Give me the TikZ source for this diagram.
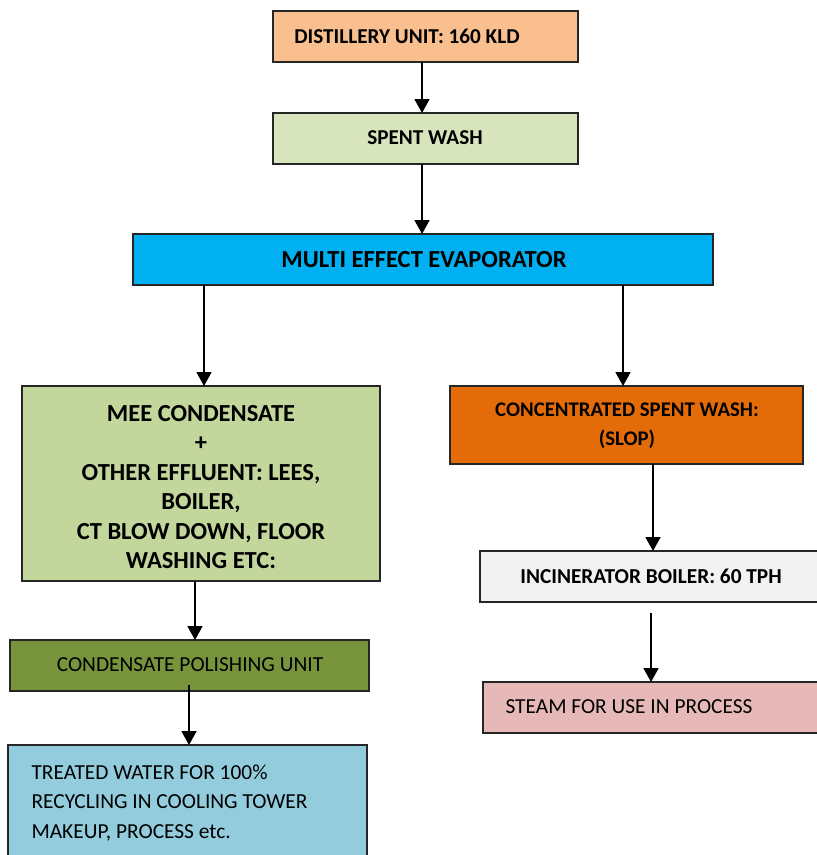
\documentclass[tikz,border=0pt]{standalone}
\usepackage{fontspec}
\setmainfont{Carlito}
\usetikzlibrary{arrows.meta}
\definecolor{cDist}{HTML}{F9BF8F}
\definecolor{cSpent}{HTML}{D8E4BC}
\definecolor{cMee}{HTML}{00B0F0}
\definecolor{cCond}{HTML}{C3D69B}
\definecolor{cSlop}{HTML}{E36C09}
\definecolor{cInc}{HTML}{F2F2F2}
\definecolor{cSteam}{HTML}{E6B9B8}
\definecolor{cPol}{HTML}{77933C}
\definecolor{cTreat}{HTML}{93CDDD}
\tikzset{
  box/.style={draw=black!85, line width=1.4pt, rectangle, inner sep=0pt, outer sep=0pt},
  arr/.style={-{Triangle[width=15pt,length=14pt]}, line width=1.8pt, black},
  txtb/.style={font=\fontsize{21.2}{25}\selectfont\bfseries},
  txtr/.style={font=\fontsize{21.4}{25}\selectfont},
}
\begin{document}
\begin{tikzpicture}[x=1pt,y=-1pt]
\useasboundingbox (0,0) rectangle (817,855);
% boxes
\node[box, fill=cDist, minimum width=305pt, minimum height=51pt] (dist) at (425.5,36.5) {};
\node[txtb] at (407,36.5) {DISTILLERY UNIT: 160 KLD};
\node[box, fill=cSpent, minimum width=305pt, minimum height=51pt] (spent) at (425.5,138.5) {};
\node[txtb] at (425,138) {SPENT WASH};
\node[box, fill=cMee, minimum width=580pt, minimum height=51pt] (mee) at (423,259.5) {};
\node[font=\fontsize{24.5}{28}\selectfont\bfseries] at (424,259.5) {MULTI EFFECT EVAPORATOR};
\node[box, fill=cCond, minimum width=358pt, minimum height=195pt] (cond) at (201,483.5) {};
\node[font=\fontsize{24.5}{29.5}\selectfont\bfseries, align=center] at (201,487) {MEE CONDENSATE\\+\\OTHER EFFLUENT: LEES,\\BOILER,\\CT BLOW DOWN, FLOOR\\WASHING ETC:};
\node[box, fill=cSlop, minimum width=353pt, minimum height=78pt] (slop) at (626.5,425) {};
\node[font=\fontsize{20.8}{29}\selectfont\bfseries, align=center] at (627,426) {CONCENTRATED SPENT WASH:\\(SLOP)};
\node[box, fill=cInc, minimum width=360pt, minimum height=51pt] (inc) at (660,576.5) {};
\node[font=\fontsize{21.3}{25}\selectfont\bfseries] at (651,576.5) {INCINERATOR BOILER: 60 TPH};
\node[box, fill=cSteam, minimum width=357pt, minimum height=51pt] (steam) at (661.5,707.5) {};
\node[txtr, anchor=west] at (502,707) {STEAM FOR USE IN PROCESS};
\node[box, fill=cPol, minimum width=359pt, minimum height=51pt] (pol) at (189.5,665.5) {};
\node[txtr] at (190,665) {CONDENSATE POLISHING UNIT};
\node[box, fill=cTreat, minimum width=359pt, minimum height=140pt] (treat) at (187.5,815) {};
\node[font=\fontsize{21.4}{29.5}\selectfont, align=left, anchor=north west] at (28,761) {TREATED WATER FOR 100\%\\RECYCLING IN COOLING TOWER\\MAKEUP, PROCESS etc.};
% connectors
\draw[arr] (dist.south -| 422,0) -- (spent.north -| 422,0);
\draw[arr] (spent.south -| 422,0) -- (mee.north -| 422,0);
\draw[arr] (mee.south -| 204,0) -- (cond.north -| 204,0);
\draw[arr] (mee.south -| 623,0) -- (slop.north -| 623,0);
\draw[arr] (slop.south -| 653,0) -- (inc.north -| 653,0);
\coordinate (incout) at (651,613);
\draw[arr] (incout) -- (steam.north -| 651,0);
\draw[arr] (cond.south -| 195,0) -- (pol.north -| 195,0);
\coordinate (polout) at (189,685);
\draw[arr] (polout) -- (treat.north -| 189,0);
\end{tikzpicture}
\end{document}
